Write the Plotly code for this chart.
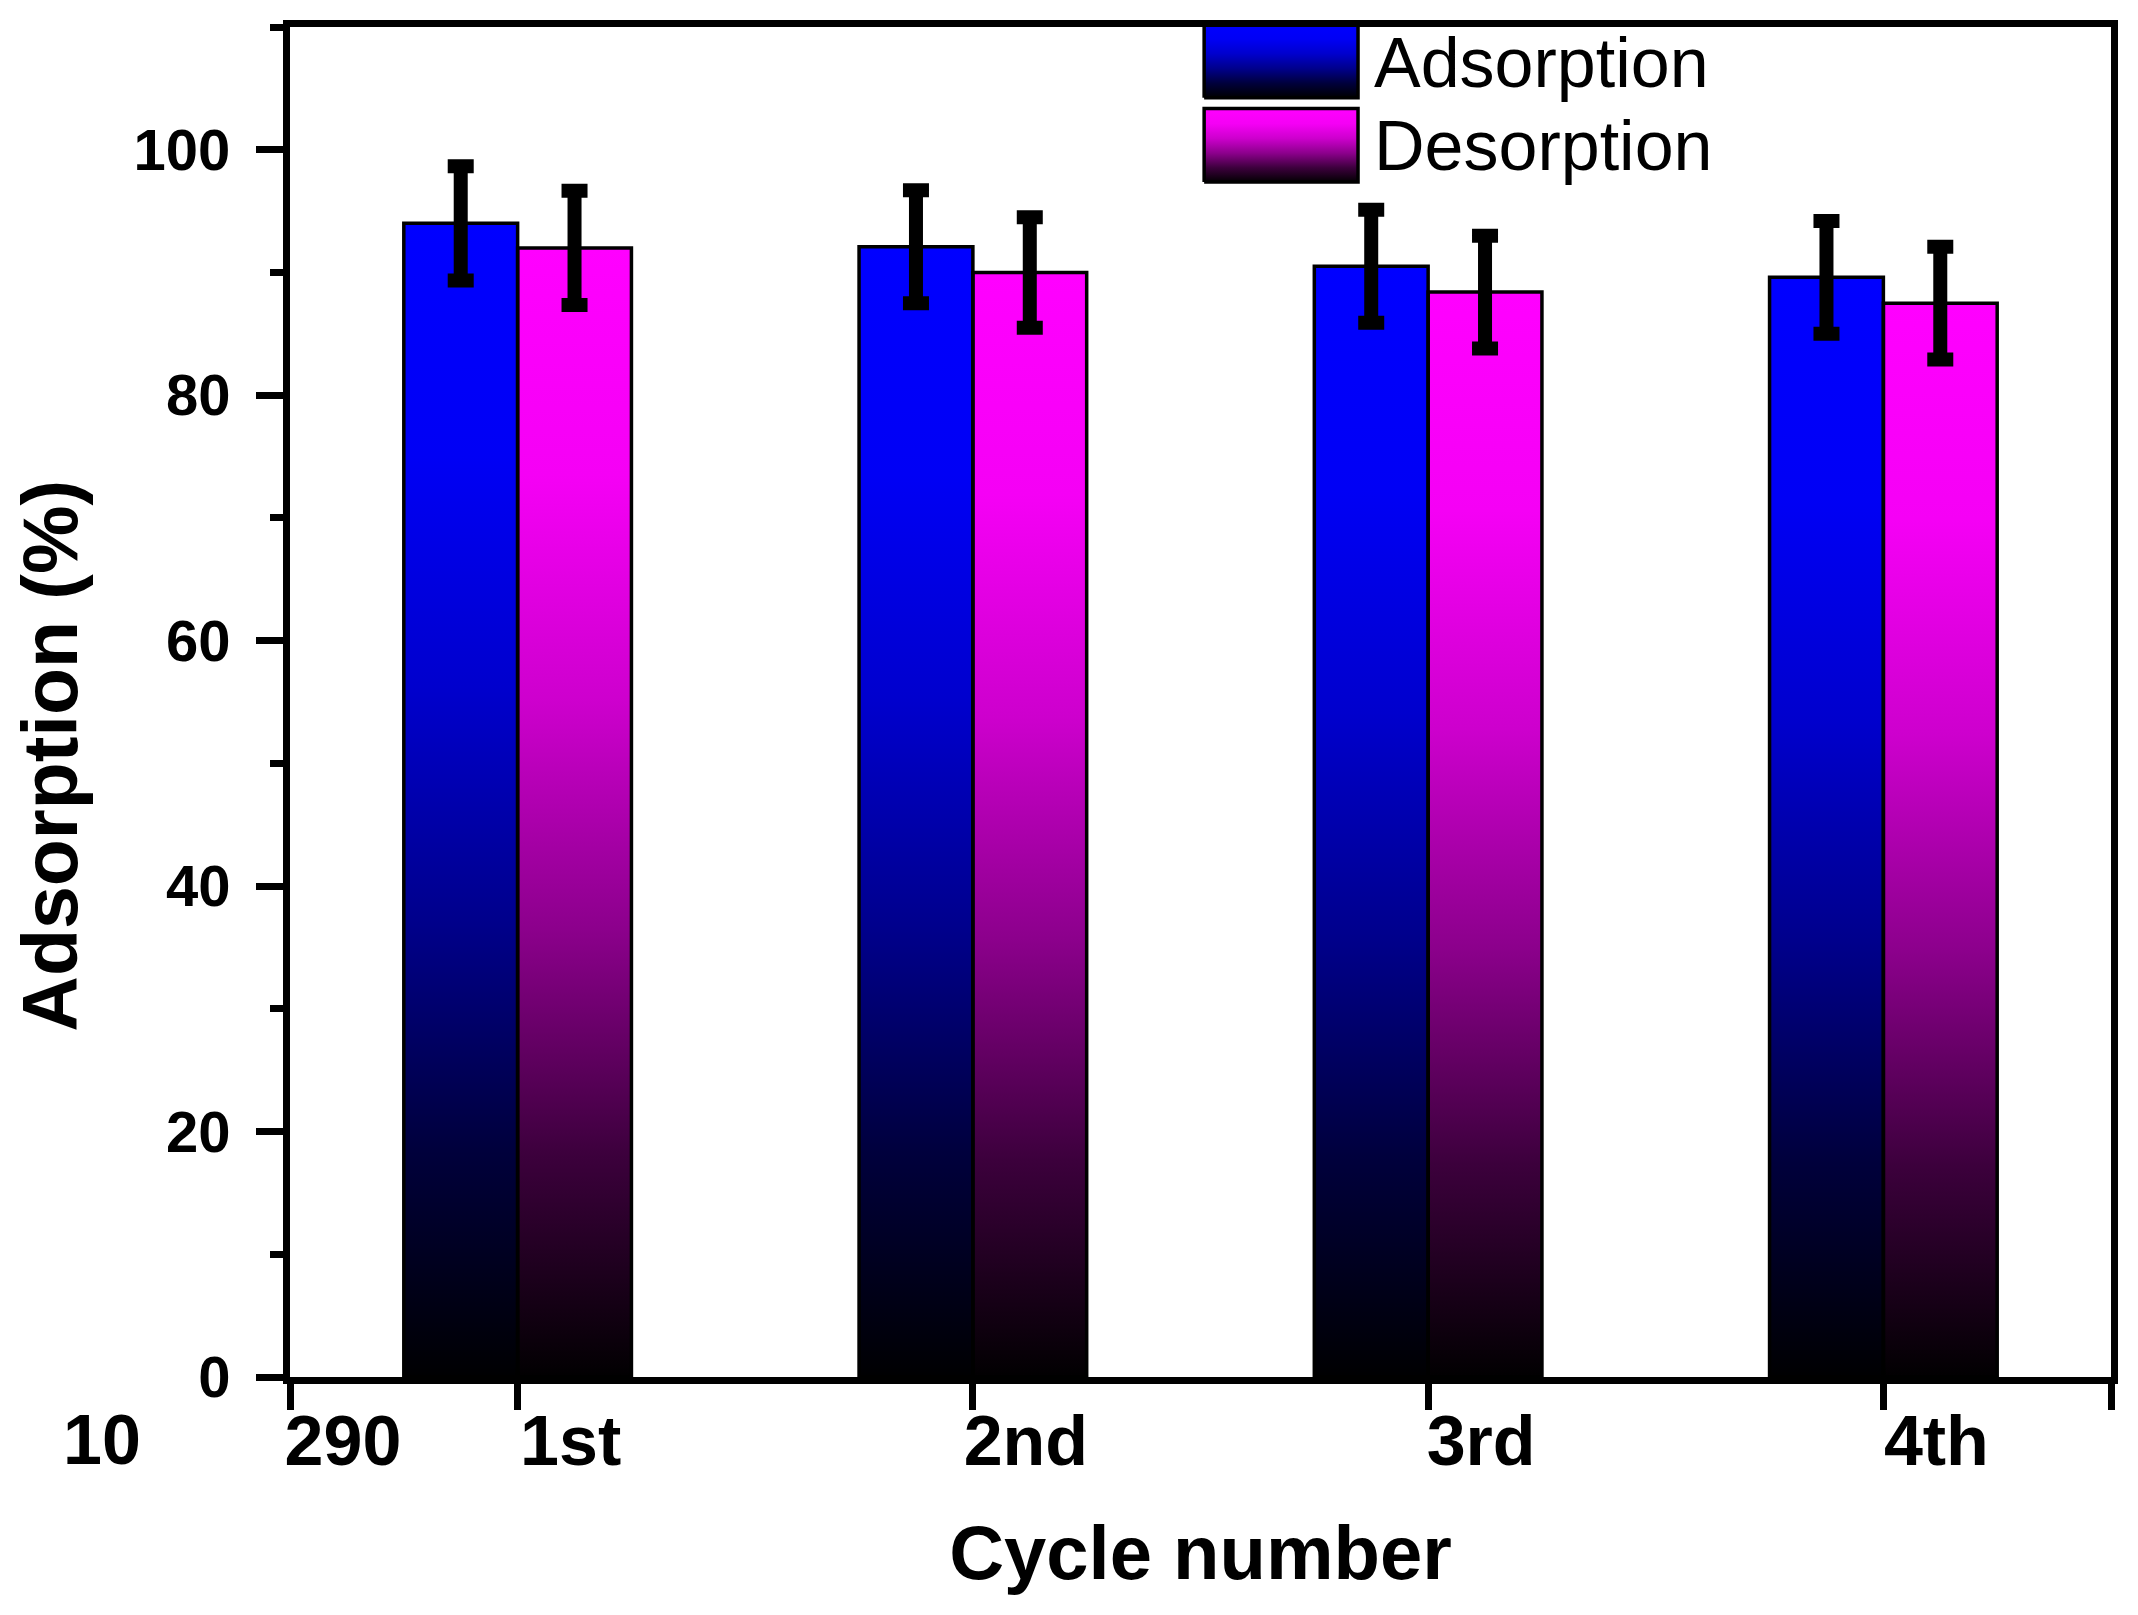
import plotly.graph_objects as go

# ---------------- data ----------------
cycles = ["1st", "2nd", "3rd", "4th"]
adsorption = [94.0, 92.1, 90.5, 89.6]
adsorption_err = [4.65, 4.6, 4.6, 4.6]
desorption = [92.0, 90.0, 88.4, 87.5]
desorption_err = [4.65, 4.5, 4.6, 4.6]
series_names = ["Adsorption", "Desorption"]
x_tick_labels = ["290", "1st", "2nd", "3rd", "4th", ""]
stray_label = "10"
x_title = "Cycle number"
y_title = "Adsorption (%)"

# ---------------- style ----------------
FONT = "Liberation Sans, Arial, sans-serif"
BAR_W = 0.25
BLUE_SCALE = [[0, "rgb(0,0,0)"], [0.2, "rgb(0,0,60)"], [0.4, "rgb(0,0,140)"],
              [0.6, "rgb(0,0,205)"], [0.8, "rgb(0,0,245)"], [1, "rgb(0,0,255)"]]
MAG_SCALE = [[0, "rgb(0,0,0)"], [0.2, "rgb(60,0,60)"], [0.4, "rgb(140,0,140)"],
             [0.6, "rgb(205,0,205)"], [0.8, "rgb(245,0,245)"], [1, "rgb(255,0,255)"]]

positions = list(range(1, len(cycles) + 1))
x_tick_vals = [positions[0] - 0.5] + positions + [positions[-1] + 0.5]
x_range = [positions[0] - 0.5, positions[-1] + 0.5]
y_range = [0, 110]

series = [
    (series_names[0], adsorption, adsorption_err, BLUE_SCALE, -1),
    (series_names[1], desorption, desorption_err, MAG_SCALE, +1),
]

fig = go.Figure()

# gradient fills of the bars (base axes, under the outlined bars)
for name, vals, errs, scale, side in series:
    for pos, v in zip(positions, vals):
        c = pos + side * BAR_W / 2
        x0, x1 = c - BAR_W / 2, c + BAR_W / 2
        fig.add_trace(go.Scatter(
            x=[x0, x0, x1, x1, x0], y=[0, v, v, 0, 0],
            fill="toself", mode="lines",
            line=dict(width=0, color="rgba(0,0,0,0)"),
            fillgradient=dict(type="vertical", colorscale=scale, start=0, stop=v),
            hoverinfo="skip", showlegend=False,
        ))

# outlined bars with error bars (overlay axes so they sit on top)
for name, vals, errs, scale, side in series:
    fig.add_trace(go.Bar(
        x=positions, y=vals, name=name,
        marker=dict(color="rgba(0,0,0,0)", line=dict(color="black", width=3.5)),
        error_y=dict(type="data", array=errs, color="black", thickness=14, width=13),
        xaxis="x2", yaxis="y2", showlegend=False,
    ))

# custom legend (large gradient swatches)
LEG_X = [0.502, 0.5865]
LEG_Y = [(0.9476, 1.002), (0.8851, 0.9396)]
LEG_TEXT_X = 0.594
LEG_TEXT_Y = [0.9735, 0.9116]
for (name, vals, errs, scale, side), (yb, yt), ty in zip(series, LEG_Y, LEG_TEXT_Y):
    fig.add_trace(go.Scatter(
        x=[LEG_X[0], LEG_X[0], LEG_X[1], LEG_X[1], LEG_X[0]],
        y=[yb, yt, yt, yb, yb],
        fill="toself", mode="lines",
        line=dict(width=3.5, color="black"),
        fillgradient=dict(type="vertical", colorscale=scale, start=yb, stop=yt),
        hoverinfo="skip", showlegend=False,
        xaxis="x3", yaxis="y3", cliponaxis=False,
    ))
    fig.add_annotation(x=LEG_TEXT_X, y=ty, xref="paper", yref="paper",
                       text=name, showarrow=False, xanchor="left", yanchor="middle",
                       font=dict(family=FONT, size=70, color="black"))

# y-axis title and stray label
fig.add_annotation(x=-0.132, y=0.46, xref="paper", yref="paper", text=y_title,
                   textangle=-90, showarrow=False, xanchor="center", yanchor="middle",
                   font=dict(family=FONT, size=77, color="black", weight="bold"))
fig.add_annotation(x=-0.103, y=-0.047, xref="paper", yref="paper", text=stray_label,
                   showarrow=False, xanchor="center", yanchor="middle",
                   font=dict(family=FONT, size=70, color="black", weight="bold"))

axis_common = dict(showline=True, linewidth=7, linecolor="black", mirror=True,
                   showgrid=False, zeroline=False, ticks="outside",
                   tickwidth=7, tickcolor="black")

fig.update_layout(
    width=2122, height=1599,
    margin=dict(l=282, r=19, t=14, b=230),
    paper_bgcolor="white", plot_bgcolor="white",
    barmode="group", bargap=0.5, bargroupgap=0,
    font=dict(family=FONT, color="black"),
    xaxis=dict(**axis_common, range=x_range, tickmode="array",
               tickvals=x_tick_vals, ticktext=x_tick_labels, ticklen=26,
               tickfont=dict(family=FONT, size=70, weight="bold"),
               ticklabelshift=53, ticklabelstandoff=-29,
               title=dict(text=x_title, standoff=49,
                          font=dict(family=FONT, size=76, weight="bold"))),
    yaxis=dict(**axis_common, range=y_range, tick0=0, dtick=20, ticklen=27,
               tickfont=dict(family=FONT, size=58, weight="bold"),
               ticklabelstandoff=14,
               minor=dict(dtick=10, tick0=0, ticks="outside", ticklen=13,
                          tickwidth=7, tickcolor="black")),
    xaxis2=dict(overlaying="x", range=x_range, visible=False),
    yaxis2=dict(overlaying="y", range=y_range, visible=False),
    xaxis3=dict(overlaying="x", range=[0, 1], visible=False),
    yaxis3=dict(overlaying="y", range=[0, 1], visible=False),
)

fig.write_html("out.html")
